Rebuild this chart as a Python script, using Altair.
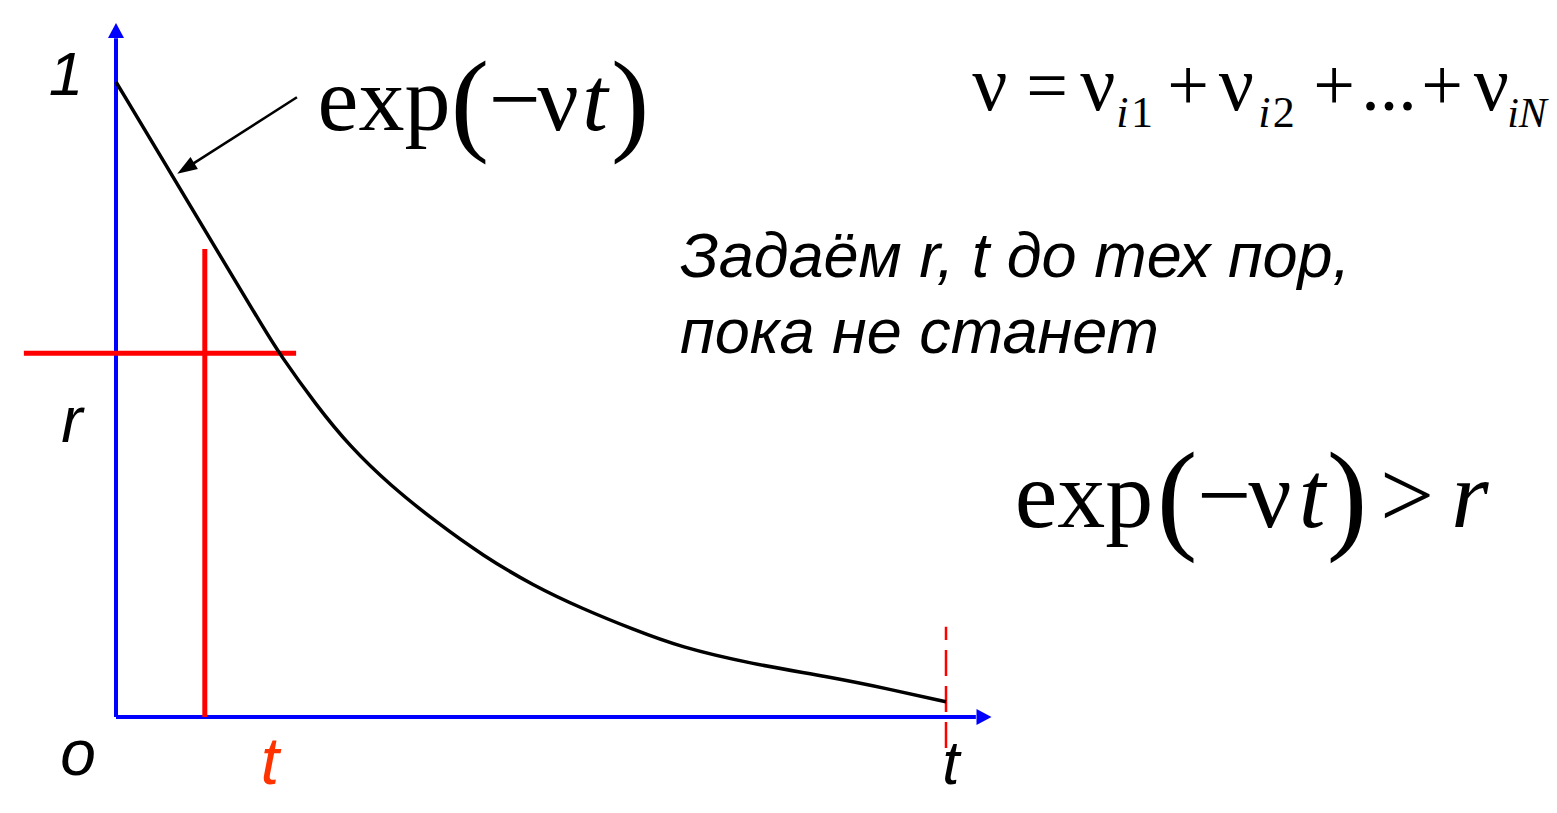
import altair as alt
import pandas as pd

# ---------------- values ----------------
# decaying curve exp(-nu t): time (t_max = 1) and value (0..1)
curve_t = [0.0, 0.064, 0.1265, 0.1795, 0.1964, 0.2418, 0.2819, 0.3301, 0.3867,
           0.4422, 0.5024, 0.5627, 0.6229, 0.680, 0.764, 0.860, 0.933, 1.0]
curve_y = [1.0, 0.861, 0.724, 0.609, 0.573, 0.490, 0.426, 0.365, 0.306,
           0.254, 0.207, 0.170, 0.138, 0.110, 0.084, 0.063, 0.0435, 0.024]

r_value = 0.573          # random r (horizontal red line)
t_value = 0.107          # random t (vertical red line)
t_max = 1.0              # end of the time axis (dashed line)

# ---------------- scales (data units -> plot) ----------------
W, H = 1541, 790
PX_T, PX_Y = 830.0, 635.0          # pixels per unit
T0_PX, Y0_PX = 108.0, 709.0        # where t=0 / y=0 sit inside the plot
xdom = [-T0_PX / PX_T, (W - T0_PX) / PX_T]
ydom = [-(H - Y0_PX) / PX_Y, Y0_PX / PX_Y]
xs = alt.Scale(domain=xdom, nice=False, zero=False)
ys = alt.Scale(domain=ydom, nice=False, zero=False)


def X(f):
    return alt.X(f, type="quantitative", scale=xs, axis=None)


def Y(f):
    return alt.Y(f, type="quantitative", scale=ys, axis=None)


# ---------------- layers ----------------
curve_df = pd.DataFrame({"t": curve_t, "y": curve_y})
curve = alt.Chart(curve_df).mark_line(color="black", strokeWidth=3.5,
                                      interpolate="basis").encode(X("t"), Y("y"))

axes_df = pd.DataFrame({"t": [0.0, 0.0], "y": [0.0, 0.0],
                        "t2": [0.0, 1.036], "y2": [1.069, 0.0]})
axes = alt.Chart(axes_df).mark_rule(color="#0000FF", strokeWidth=4,
                                    strokeCap="butt").encode(
    X("t"), Y("y"), x2="t2:Q", y2="y2:Q")

arrow_path = "M0,-1L-1.07,1L1.07,1Z"
heads_df = pd.DataFrame({"t": [0.0, 1.0458], "y": [1.0811, 0.0], "ang": [0, 90]})
heads = alt.Chart(heads_df).mark_point(shape=arrow_path, filled=True, size=225,
                                       color="#0000FF", opacity=1,
                                       strokeWidth=0).encode(
    X("t"), Y("y"), angle=alt.Angle("ang:Q", scale=None))

red_df = pd.DataFrame({"t": [-0.111, t_value], "y": [r_value, 0.0],
                       "t2": [0.217, t_value], "y2": [r_value, 0.737]})
red = alt.Chart(red_df).mark_rule(color="#FF0000", strokeWidth=5,
                                  strokeCap="butt").encode(
    X("t"), Y("y"), x2="t2:Q", y2="y2:Q")

dash_df = pd.DataFrame({"t": [t_max], "y": [-0.049], "t2": [t_max], "y2": [0.142]})
dash = alt.Chart(dash_df).mark_rule(color="#FF0000", strokeWidth=2.5,
                                    strokeDash=[26, 10], strokeCap="butt").encode(
    X("t"), Y("y"), x2="t2:Q", y2="y2:Q")

pointer_df = pd.DataFrame({"t": [0.218], "y": [0.976], "t2": [0.0840], "y2": [0.8640]})
pointer = alt.Chart(pointer_df).mark_rule(color="black", strokeWidth=2.5).encode(
    X("t"), Y("y"), x2="t2:Q", y2="y2:Q")
pointer_head = alt.Chart(pd.DataFrame({"t": [0.0840], "y": [0.8640]})).mark_point(
    shape="M0,-1L-0.7,1L0.7,1Z", filled=True, size=400, color="black",
    opacity=1, strokeWidth=0, angle=238).encode(X("t"), Y("y"))

# ---------------- text ----------------
sans_labels = pd.DataFrame({
    "text": ["1", "r", "o", "t", "t"],
    "t": [-0.0602, -0.0530, -0.0458, 0.1855, 1.0060],
    "y": [0.9795, 0.4331, -0.0913, -0.1050, -0.1050],
    "size": [62, 64, 64, 66, 62],
    "color": ["black", "black", "black", "#FF3300", "black"],
})
sans = alt.Chart(sans_labels).mark_text(
    font="Liberation Sans", fontStyle="italic", align="center",
    baseline="alphabetic").encode(
    X("t"), Y("y"), text="text:N",
    size=alt.Size("size:Q", scale=None), color=alt.Color("color:N", scale=None))

ru_df = pd.DataFrame({"text": ["Задаём r, t до тех пор,", "пока не станет"],
                      "t": [0.6795, 0.6795], "y": [0.6929, 0.5732]})
ru = alt.Chart(ru_df).mark_text(
    font="Liberation Sans", fontStyle="italic", fontSize=63, align="left",
    baseline="alphabetic", color="black").encode(X("t"), Y("y"), text="text:N")

serif_up = pd.DataFrame({
    "text": ["exp", "(", "\u2212", "\u03bd", ")",
             "exp", "(", "\u2212", "\u03bd", ")", ">",
             "\u03bd", "=", "\u03bd", "1", "+", "\u03bd", "2", "+", "...", "+", "\u03bd"],
    "t": [0.3229, 0.4265, 0.4807, 0.5325, 0.6193,
          1.1663, 1.2783, 1.3349, 1.3904, 1.4831, 1.5554,
          1.0530, 1.1217, 1.1830, 1.2360, 1.2916, 1.3500, 1.4070, 1.4675, 1.5337, 1.5976, 1.6570],
    "y": [0.9244, 0.9087, 0.9244, 0.9244, 0.9087,
          0.2992, 0.2835, 0.2992, 0.2992, 0.2835, 0.2992,
          0.9559, 0.9559, 0.9559, 0.9291, 0.9559, 0.9559, 0.9291, 0.9559, 0.9559, 0.9559, 0.9559],
    "size": [92, 115, 92, 92, 115,
             96, 122, 96, 96, 122, 96,
             78, 74, 78, 44, 74, 78, 44, 74, 74, 74, 78],
})
serif1 = alt.Chart(serif_up).mark_text(
    font="Liberation Serif", align="center", baseline="alphabetic",
    color="black").encode(X("t"), Y("y"), text="text:N",
                          size=alt.Size("size:Q", scale=None))

serif_it = pd.DataFrame({
    "text": ["t", "t", "r", "i", "i", "iN"],
    "t": [0.5771, 1.4410, 1.6313, 1.2125, 1.3835, 1.7000],
    "y": [0.9244, 0.2992, 0.2992, 0.9291, 0.9291, 0.9291],
    "size": [92, 96, 96, 44, 44, 42],
})
serif2 = alt.Chart(serif_it).mark_text(
    font="Liberation Serif", fontStyle="italic", align="center",
    baseline="alphabetic", color="black").encode(
    X("t"), Y("y"), text="text:N", size=alt.Size("size:Q", scale=None))

chart = alt.layer(
    axes, heads, red, dash, curve, pointer, pointer_head, sans, ru, serif1, serif2
).properties(
    width=W, height=H, padding=0, autosize=alt.AutoSizeParams(type="none"),
    background="white"
).configure_view(stroke=None)

chart.save("out.html", embed_options={"renderer": "svg", "actions": False})
